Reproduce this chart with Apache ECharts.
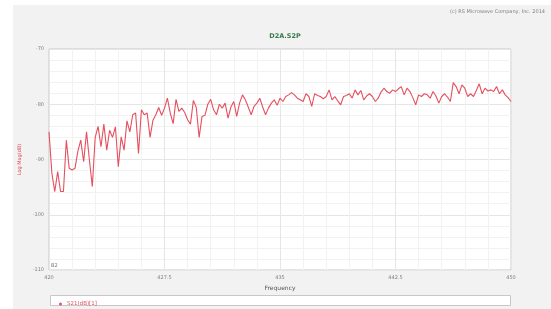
<!DOCTYPE html>
<html>
<head>
<meta charset="utf-8">
<script src="https://cdn.jsdelivr.net/npm/echarts@6/dist/echarts.min.js"></script>
<style>
  html, body { margin: 0; padding: 0; background: #fff; }
  #main { width: 551px; height: 309px; }
</style>
</head>
<body>
<div id="main"></div>
<script>
// linear sweep 420 - 450 MHz, 161 points
var freqStart = 420;
var freqStop = 450;
var xTicks = [420, 427.5, 435, 442.5, 450];
var yTicks = [-110, -100, -90, -80, -70];

// S21 log mag (dB)
var s21 = [
  -85.0, -92.5, -95.8, -92.2, -95.8, -95.8, -86.5, -91.6, -91.9, -91.6,
  -88.5, -86.5, -90.4, -85.0, -90.1, -94.9, -86.0, -84.0, -87.7, -83.6,
  -88.3, -84.7, -86.0, -84.1, -91.3, -85.9, -88.3, -83.0, -85.0, -81.9,
  -81.6, -88.9, -81.0, -81.9, -81.6, -86.0, -82.9, -81.9, -80.6, -82.0,
  -80.7, -78.9, -81.6, -83.5, -79.1, -81.3, -80.7, -81.5, -82.8, -83.6,
  -79.3, -80.6, -86.0, -82.2, -82.0, -80.0, -79.1, -81.0, -81.9, -80.0,
  -80.7, -79.8, -82.5, -80.5, -79.5, -82.2, -79.8, -78.3, -79.2, -80.5,
  -81.9, -80.4, -79.8, -78.9, -80.5, -81.9, -80.7, -79.8, -79.2, -80.2,
  -78.9, -79.5, -78.6, -78.3, -77.9, -78.3, -78.9, -79.2, -79.5, -78.1,
  -78.6, -80.4, -78.1, -78.4, -78.6, -79.0, -78.6, -77.4, -79.2, -78.6,
  -79.4, -80.1, -78.6, -78.4, -78.1, -78.9, -77.4, -78.3, -77.5, -79.2,
  -78.5, -78.1, -78.6, -79.5, -78.9, -77.8, -77.1, -77.7, -78.0, -77.4,
  -77.7, -77.2, -76.8, -78.3, -77.1, -77.7, -78.8, -80.1, -78.3, -78.6,
  -78.1, -78.3, -78.9, -77.7, -78.5, -79.8, -78.6, -78.1, -78.7, -79.5,
  -76.1, -76.8, -78.1, -76.5, -77.1, -78.6, -78.1, -78.6, -77.5, -76.3,
  -78.1, -77.1, -77.6, -77.4, -77.7, -76.8, -78.1, -77.4, -78.3, -78.8,
  -79.5
];

var step = (freqStop - freqStart) / (s21.length - 1);
var points = [];
for (var i = 0; i < s21.length; i++) {
  points.push([freqStart + i * step, s21[i]]);
}

var chart = echarts.init(document.getElementById('main'));

chart.setOption({
  backgroundColor: '#f2f2f2',
  animation: false,
  title: {
    text: 'D2A.S2P',
    left: 280,
    top: 28,
    textAlign: 'center',
    textStyle: { fontFamily: 'DejaVu Sans', fontSize: 6.5, fontWeight: 'bold', color: '#3a7a4c' }
  },
  graphic: [
    { type: 'rect', left: 0, top: 0, shape: { width: 13, height: 309 }, style: { fill: '#fff' } },
    { type: 'rect', left: 0, top: 0, shape: { width: 551, height: 5 }, style: { fill: '#fff' } },
    { type: 'text', right: 6, top: 9,
      style: { text: '(c) RS Microwave Company, Inc. 2014', fontFamily: 'DejaVu Sans', fontSize: 5, fill: '#808080' } },
    { type: 'text', left: 51, top: 263,
      style: { text: 'B2', fontFamily: 'DejaVu Sans', fontSize: 5, fill: '#777' } },
    { type: 'rect', left: 50, top: 295, z: 1,
      shape: { width: 460, height: 10 }, style: { fill: '#fff', stroke: '#c8c8c8', lineWidth: 1 } }
  ],
  legend: {
    left: 54,
    top: 296,
    z: 5,
    icon: 'circle',
    itemWidth: 3,
    itemHeight: 3,
    itemGap: 4,
    textStyle: { fontFamily: 'DejaVu Sans', fontSize: 5.5, color: '#e0505f' },
    data: ['S21(dB)[1]']
  },
  grid: {
    left: 49,
    right: 40,
    top: 49,
    bottom: 39,
    show: true,
    backgroundColor: '#fff',
    borderColor: '#c8c8c8',
    borderWidth: 1
  },
  xAxis: {
    type: 'value',
    min: xTicks[0],
    max: xTicks[xTicks.length - 1],
    interval: xTicks[1] - xTicks[0],
    name: 'Frequency',
    nameLocation: 'middle',
    nameGap: 15,
    nameTextStyle: { fontFamily: 'DejaVu Sans', fontSize: 6, color: '#555' },
    axisLine: { show: false },
    axisTick: { show: false },
    axisLabel: { fontFamily: 'DejaVu Sans', fontSize: 5, color: '#808080', margin: 5 },
    splitLine: { show: true, lineStyle: { color: '#e6e6e6', width: 1 } },
    minorSplitLine: { show: true, lineStyle: { color: '#f2f2f2', width: 1 } },
    minorTick: { show: false, splitNumber: 5 }
  },
  yAxis: {
    type: 'value',
    min: yTicks[0],
    max: yTicks[yTicks.length - 1],
    interval: yTicks[1] - yTicks[0],
    name: 'Log Mag(dB)',
    nameLocation: 'middle',
    nameGap: 27,
    nameTextStyle: { fontFamily: 'DejaVu Sans', fontSize: 5, color: '#e0505f' },
    axisLine: { show: false },
    axisTick: { show: false },
    axisLabel: { fontFamily: 'DejaVu Sans', fontSize: 5, color: '#808080', margin: 5 },
    splitLine: { show: true, lineStyle: { color: '#e6e6e6', width: 1 } },
    minorSplitLine: { show: true, lineStyle: { color: '#f2f2f2', width: 1 } },
    minorTick: { show: false, splitNumber: 5 }
  },
  series: [{
    name: 'S21(dB)[1]',
    type: 'line',
    data: points,
    symbol: 'none',
    itemStyle: { color: '#e5505f' },
    lineStyle: { color: '#e5505f', width: 1.1 }
  }]
});
</script>
</body>
</html>
